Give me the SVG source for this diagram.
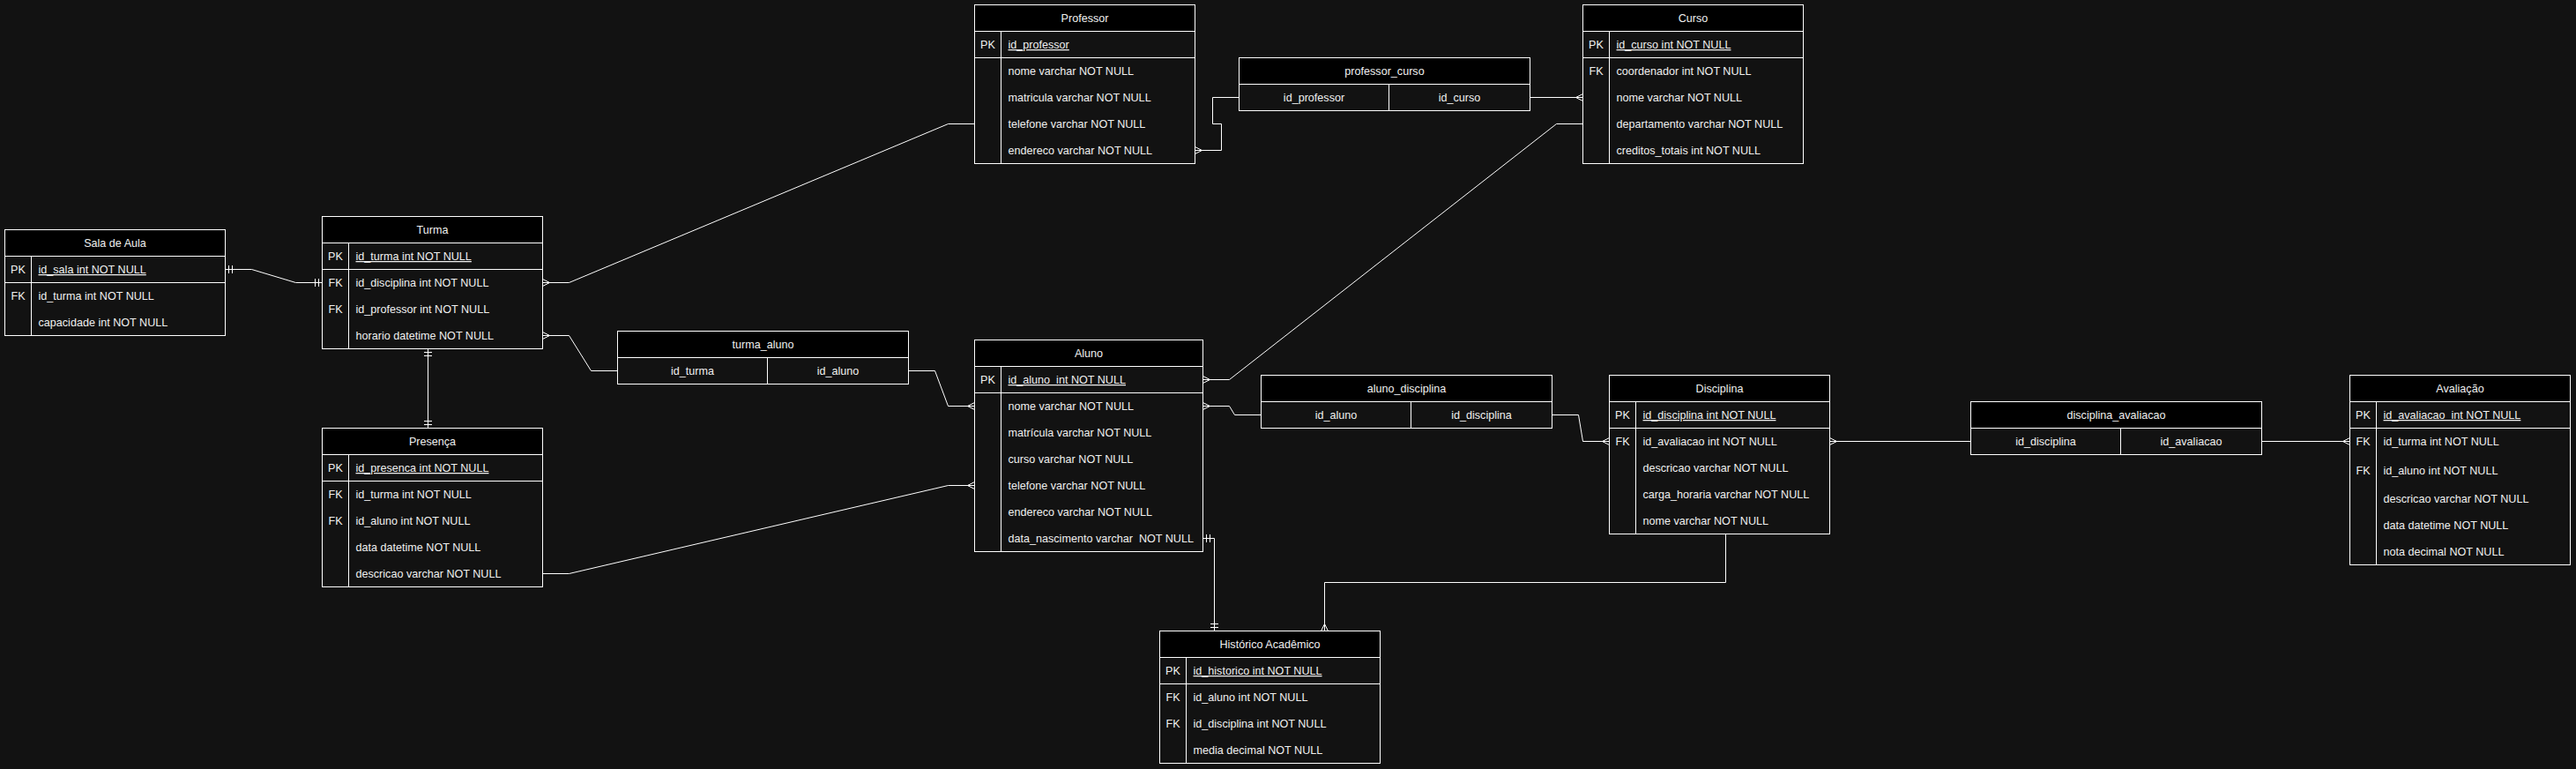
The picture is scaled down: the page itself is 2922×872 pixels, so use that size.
<svg xmlns="http://www.w3.org/2000/svg" width="2922" height="872" viewBox="0 0 2922 872">
<style>
.bg{fill:#121212}
.box{fill:#121212;stroke:#ffffff;stroke-width:1}
.hdr{fill:#000000;stroke:#ffffff;stroke-width:1}
.ln{stroke:#ffffff;stroke-width:1;fill:none}
text{font-family:"Liberation Sans",Arial,sans-serif;font-size:12.6px;fill:#f0f0f0;white-space:pre}
.c{text-anchor:middle}
.pk{text-decoration:underline}
.edge{fill:none;stroke:#ffffff;stroke-width:1}
.mk{fill:none;stroke:#ffffff;stroke-width:1}
</style>
<defs>
<marker id="many" markerUnits="userSpaceOnUse" orient="auto-start-reverse" refX="0" refY="0" markerWidth="12" markerHeight="12" style="overflow:visible"><path class="mk" d="M0,-4 L-8,0 L0,4"/></marker>
<marker id="one" markerUnits="userSpaceOnUse" orient="auto-start-reverse" refX="0" refY="0" markerWidth="12" markerHeight="12" style="overflow:visible"><path class="mk" d="M-4,-4.5 V4.5 M-8,-4.5 V4.5"/></marker>
</defs>
<rect class="bg" x="0" y="0" width="2922" height="872"/>

<g id="connectors">
<path class="edge" d="M255.5,305.5 H285.5 L335.5,320.5 H365.5" marker-start="url(#one)" marker-end="url(#one)"/>
<path class="edge" d="M485.5,395.5 V485.5" marker-start="url(#one)" marker-end="url(#one)"/>
<path class="edge" d="M615.5,320.5 H645.5 L1075.5,140.5 H1105.5" marker-start="url(#many)"/>
<path class="edge" d="M615.5,380.5 H645.5 L670.5,420.5 H700.5" marker-start="url(#many)"/>
<path class="edge" d="M1030.5,420.5 H1060.5 L1075.5,460.5 H1105.5" marker-end="url(#many)"/>
<path class="edge" d="M615.5,650.5 H645.5 L1075.5,550.5 H1105.5" marker-end="url(#many)"/>
<path class="edge" d="M1364.5,430.5 H1394.5 L1765.5,140.5 H1795.5" marker-start="url(#many)"/>
<path class="edge" d="M1405.5,110.5 H1375.5 V140.5 H1385.5 V170.5 H1355.5" marker-end="url(#many)"/>
<path class="edge" d="M1735.5,110.5 H1795.5" marker-end="url(#many)"/>
<path class="edge" d="M1364.5,460.5 H1394.5 L1400.5,470.5 H1430.5" marker-start="url(#many)"/>
<path class="edge" d="M1760.5,470.5 H1790.5 L1795.5,500.5 H1825.5" marker-end="url(#many)"/>
<path class="edge" d="M2075.5,500.5 H2235.5" marker-start="url(#many)"/>
<path class="edge" d="M2565.5,500.5 H2665.5" marker-end="url(#many)"/>
<path class="edge" d="M1957.5,605.5 V660.5 H1502.5 V715.5" marker-end="url(#many)"/>
<path class="edge" d="M1364.5,610.5 H1377.5 V715.5" marker-start="url(#one)" marker-end="url(#one)"/>
</g>

<g id="sala_de_aula">
<rect class="box" x="5.5" y="260.5" width="250" height="120"/>
<rect class="hdr" x="5.5" y="260.5" width="250" height="30"/>
<path class="ln" d="M5.5,320.5 H255.5 M35.5,290.5 V380.5"/>
<text class="c" x="130.5" y="280">Sala de Aula</text>
<text class="c" x="20.5" y="310">PK</text><text class="pk" x="43.5" y="310">id_sala int NOT NULL</text>
<text class="c" x="20.5" y="340">FK</text><text x="43.5" y="340">id_turma int NOT NULL</text>
<text x="43.5" y="370">capacidade int NOT NULL</text>
</g>

<g id="turma">
<rect class="box" x="365.5" y="245.5" width="250" height="150"/>
<rect class="hdr" x="365.5" y="245.5" width="250" height="30"/>
<path class="ln" d="M365.5,305.5 H615.5 M395.5,275.5 V395.5"/>
<text class="c" x="490.5" y="265">Turma</text>
<text class="c" x="380.5" y="295">PK</text><text class="pk" x="403.5" y="295">id_turma int NOT NULL</text>
<text class="c" x="380.5" y="325">FK</text><text x="403.5" y="325">id_disciplina int NOT NULL</text>
<text class="c" x="380.5" y="355">FK</text><text x="403.5" y="355">id_professor int NOT NULL</text>
<text x="403.5" y="385">horario datetime NOT NULL</text>
</g>

<g id="presenca">
<rect class="box" x="365.5" y="485.5" width="250" height="180"/>
<rect class="hdr" x="365.5" y="485.5" width="250" height="30"/>
<path class="ln" d="M365.5,545.5 H615.5 M395.5,515.5 V665.5"/>
<text class="c" x="490.5" y="505">Presença</text>
<text class="c" x="380.5" y="535">PK</text><text class="pk" x="403.5" y="535">id_presenca int NOT NULL</text>
<text class="c" x="380.5" y="565">FK</text><text x="403.5" y="565">id_turma int NOT NULL</text>
<text class="c" x="380.5" y="595">FK</text><text x="403.5" y="595">id_aluno int NOT NULL</text>
<text x="403.5" y="625">data datetime NOT NULL</text>
<text x="403.5" y="655">descricao varchar NOT NULL</text>
</g>

<g id="turma_aluno">
<rect class="box" x="700.5" y="375.5" width="330" height="60"/>
<rect class="hdr" x="700.5" y="375.5" width="330" height="30"/>
<path class="ln" d="M870.5,405.5 V435.5"/>
<text class="c" x="865.5" y="395">turma_aluno</text>
<text class="c" x="785.5" y="425">id_turma</text>
<text class="c" x="950.5" y="425">id_aluno</text>
</g>

<g id="professor">
<rect class="box" x="1105.5" y="5.5" width="250" height="180"/>
<rect class="hdr" x="1105.5" y="5.5" width="250" height="30"/>
<path class="ln" d="M1105.5,65.5 H1355.5 M1135.5,35.5 V185.5"/>
<text class="c" x="1230.5" y="25">Professor</text>
<text class="c" x="1120.5" y="55">PK</text><text class="pk" x="1143.5" y="55">id_professor</text>
<text x="1143.5" y="85">nome varchar NOT NULL</text>
<text x="1143.5" y="115">matricula varchar NOT NULL</text>
<text x="1143.5" y="145">telefone varchar NOT NULL</text>
<text x="1143.5" y="175">endereco varchar NOT NULL</text>
</g>

<g id="professor_curso">
<rect class="box" x="1405.5" y="65.5" width="330" height="60"/>
<rect class="hdr" x="1405.5" y="65.5" width="330" height="30"/>
<path class="ln" d="M1575.5,95.5 V125.5"/>
<text class="c" x="1570.5" y="85">professor_curso</text>
<text class="c" x="1490.5" y="115">id_professor</text>
<text class="c" x="1655.5" y="115">id_curso</text>
</g>

<g id="curso">
<rect class="box" x="1795.5" y="5.5" width="250" height="180"/>
<rect class="hdr" x="1795.5" y="5.5" width="250" height="30"/>
<path class="ln" d="M1795.5,65.5 H2045.5 M1825.5,35.5 V185.5"/>
<text class="c" x="1920.5" y="25">Curso</text>
<text class="c" x="1810.5" y="55">PK</text><text class="pk" x="1833.5" y="55">id_curso int NOT NULL</text>
<text class="c" x="1810.5" y="85">FK</text><text x="1833.5" y="85">coordenador int NOT NULL</text>
<text x="1833.5" y="115">nome varchar NOT NULL</text>
<text x="1833.5" y="145">departamento varchar NOT NULL</text>
<text x="1833.5" y="175">creditos_totais int NOT NULL</text>
</g>

<g id="aluno">
<rect class="box" x="1105.5" y="385.5" width="259" height="240"/>
<rect class="hdr" x="1105.5" y="385.5" width="259" height="30"/>
<path class="ln" d="M1105.5,445.5 H1364.5 M1135.5,415.5 V625.5"/>
<text class="c" x="1235" y="405">Aluno</text>
<text class="c" x="1120.5" y="435">PK</text><text class="pk" x="1143.5" y="435">id_aluno  int NOT NULL</text>
<text x="1143.5" y="465">nome varchar NOT NULL</text>
<text x="1143.5" y="495">matrícula varchar NOT NULL</text>
<text x="1143.5" y="525">curso varchar NOT NULL</text>
<text x="1143.5" y="555">telefone varchar NOT NULL</text>
<text x="1143.5" y="585">endereco varchar NOT NULL</text>
<text x="1143.5" y="615">data_nascimento varchar  NOT NULL</text>
</g>

<g id="aluno_disciplina">
<rect class="box" x="1430.5" y="425.5" width="330" height="60"/>
<rect class="hdr" x="1430.5" y="425.5" width="330" height="30"/>
<path class="ln" d="M1600.5,455.5 V485.5"/>
<text class="c" x="1595.5" y="445">aluno_disciplina</text>
<text class="c" x="1515.5" y="475">id_aluno</text>
<text class="c" x="1680.5" y="475">id_disciplina</text>
</g>

<g id="disciplina">
<rect class="box" x="1825.5" y="425.5" width="250" height="180"/>
<rect class="hdr" x="1825.5" y="425.5" width="250" height="30"/>
<path class="ln" d="M1825.5,485.5 H2075.5 M1855.5,455.5 V605.5"/>
<text class="c" x="1950.5" y="445">Disciplina</text>
<text class="c" x="1840.5" y="475">PK</text><text class="pk" x="1863.5" y="475">id_disciplina int NOT NULL</text>
<text class="c" x="1840.5" y="505">FK</text><text x="1863.5" y="505">id_avaliacao int NOT NULL</text>
<text x="1863.5" y="535">descricao varchar NOT NULL</text>
<text x="1863.5" y="565">carga_horaria varchar NOT NULL</text>
<text x="1863.5" y="595">nome varchar NOT NULL</text>
</g>

<g id="disciplina_avaliacao">
<rect class="box" x="2235.5" y="455.5" width="330" height="60"/>
<rect class="hdr" x="2235.5" y="455.5" width="330" height="30"/>
<path class="ln" d="M2405.5,485.5 V515.5"/>
<text class="c" x="2400.5" y="475">disciplina_avaliacao</text>
<text class="c" x="2320.5" y="505">id_disciplina</text>
<text class="c" x="2485.5" y="505">id_avaliacao</text>
</g>

<g id="avaliacao">
<rect class="box" x="2665.5" y="425.5" width="250" height="215"/>
<rect class="hdr" x="2665.5" y="425.5" width="250" height="30"/>
<path class="ln" d="M2665.5,485.5 H2915.5 M2695.5,455.5 V640.5"/>
<text class="c" x="2790.5" y="445">Avaliação</text>
<text class="c" x="2680.5" y="475">PK</text><text class="pk" x="2703.5" y="475">id_avaliacao  int NOT NULL</text>
<text class="c" x="2680.5" y="505">FK</text><text x="2703.5" y="505">id_turma int NOT NULL</text>
<text class="c" x="2680.5" y="538">FK</text><text x="2703.5" y="538">id_aluno int NOT NULL</text>
<text x="2703.5" y="570">descricao varchar NOT NULL</text>
<text x="2703.5" y="600">data datetime NOT NULL</text>
<text x="2703.5" y="630">nota decimal NOT NULL</text>
</g>

<g id="historico_academico">
<rect class="box" x="1315.5" y="715.5" width="250" height="150"/>
<rect class="hdr" x="1315.5" y="715.5" width="250" height="30"/>
<path class="ln" d="M1315.5,775.5 H1565.5 M1345.5,745.5 V865.5"/>
<text class="c" x="1440.5" y="735">Histórico Acadêmico</text>
<text class="c" x="1330.5" y="765">PK</text><text class="pk" x="1353.5" y="765">id_historico int NOT NULL</text>
<text class="c" x="1330.5" y="795">FK</text><text x="1353.5" y="795">id_aluno int NOT NULL</text>
<text class="c" x="1330.5" y="825">FK</text><text x="1353.5" y="825">id_disciplina int NOT NULL</text>
<text x="1353.5" y="855">media decimal NOT NULL</text>
</g>
</svg>
